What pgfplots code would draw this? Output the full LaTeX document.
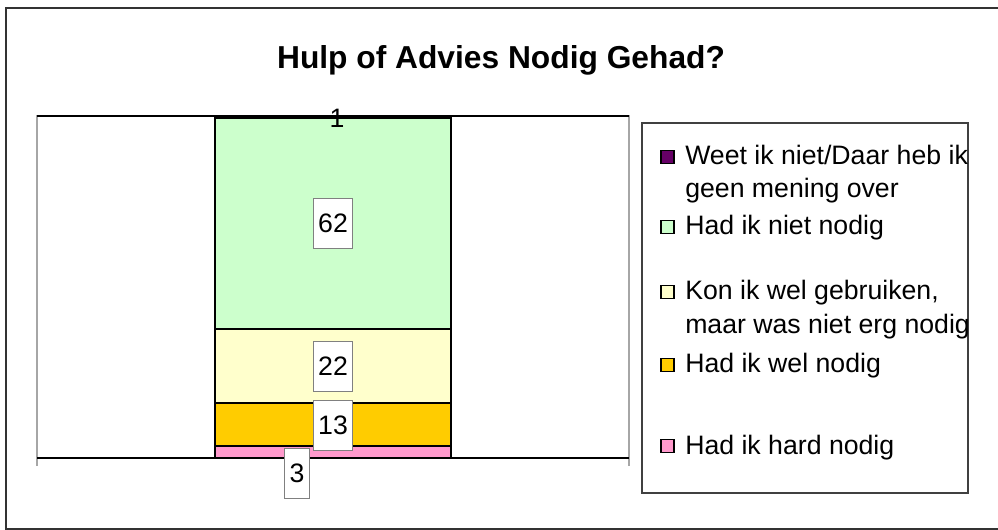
\documentclass[border=0pt]{standalone}
\usepackage{pgfplots}
\pgfplotsset{compat=1.18}
\usepackage{fontspec}
\setmainfont{Liberation Sans}
\definecolor{cPink}{HTML}{FF99CC}
\definecolor{cOrange}{HTML}{FFCC00}
\definecolor{cYellow}{HTML}{FFFFCC}
\definecolor{cGreen}{HTML}{CCFFCC}
\definecolor{cPurple}{HTML}{660066}
\begin{document}
\begin{tikzpicture}
\pgfplotsset{
  plotframe/.style={scale only axis, width=444pt, height=256.5pt,
    at={(27.75pt,-343.5pt)}, anchor=south west,
    xmin=-1, xmax=1, ymin=0, ymax=100, clip=false}
}
% stacked bar
\begin{axis}[plotframe, ybar stacked, bar width=177pt,
  axis line style={gray!70, line width=0.8pt},
  xtick={-1,1}, xticklabels={}, ytick=\empty,
  xtick pos=lower, tick align=outside, major tick length=6pt,
  tick style={gray!70, line width=0.8pt},
  every axis plot/.append style={draw=black, line width=1.5pt}]
\addplot[fill=cPink]   coordinates {(0,3.4)};
\addplot[fill=cOrange] coordinates {(0,12.6)};
\addplot[fill=cYellow] coordinates {(0,21.6)};
\addplot[fill=cGreen]  coordinates {(0,61.8)};
\addplot[fill=cPurple] coordinates {(0,0.6)};
\draw[black, line width=0.8pt] (rel axis cs:0,0) -- (rel axis cs:1,0);
\draw[black, line width=0.8pt] (rel axis cs:0,1) -- (rel axis cs:1,1);
\end{axis}
% data labels
\begin{axis}[plotframe, hide axis]
\addplot[draw=none, nodes near coords, point meta=explicit symbolic,
  every node near coord/.append style={anchor=center, fill=white, draw=gray,
    line width=0.8pt, inner xsep=3.75pt, inner ysep=0pt, minimum height=37.5pt,
    font=\fontsize{20}{24}\selectfont}]
  coordinates {(0,68.5)[62] (0,26.8)[22] (0,9.5)[13] (-0.1216,-4.4)[3]};
\addplot[draw=none, nodes near coords, point meta=explicit symbolic,
  every node near coord/.append style={anchor=center, inner sep=0pt,
    font=\fontsize{20}{24}\selectfont}]
  coordinates {(0.0135,99.4)[1]};
\end{axis}
\begin{scope}[x=0.75pt, y=-0.75pt]
  \node[anchor=base, font=\bfseries\fontsize{23.8}{28}\selectfont] at (501,69) {Hulp of Advies Nodig Gehad?};
  % legend
  \draw[black!75, line width=0.8pt] (642,123) rectangle (968,493);
  \foreach \c/\yy in {cPurple/157, cGreen/227, cYellow/292, cOrange/365, cPink/446}
    \draw[black, line width=0.9pt, fill=\c] (661,{\yy-6.5}) rectangle ++(13,13);
  \begin{scope}[every node/.style={anchor=base west, inner sep=0pt, font=\fontsize{20}{24}\selectfont}]
    \node at (685,165) {Weet ik niet/Daar heb ik};
    \node at (685,198) {geen mening over};
    \node at (685,235) {Had ik niet nodig};
    \node at (685,300) {Kon ik wel gebruiken,};
    \node at (685,334) {maar was niet erg nodig};
    \node at (685,373) {Had ik wel nodig};
    \node at (685,454) {Had ik hard nodig};
  \end{scope}
  \draw[black!80, line width=1.5pt] (6,8.5) rectangle (1003,529);
  \pgfresetboundingbox
  \useasboundingbox (0,0) rectangle (998,530);
\end{scope}
\end{tikzpicture}
\end{document}
